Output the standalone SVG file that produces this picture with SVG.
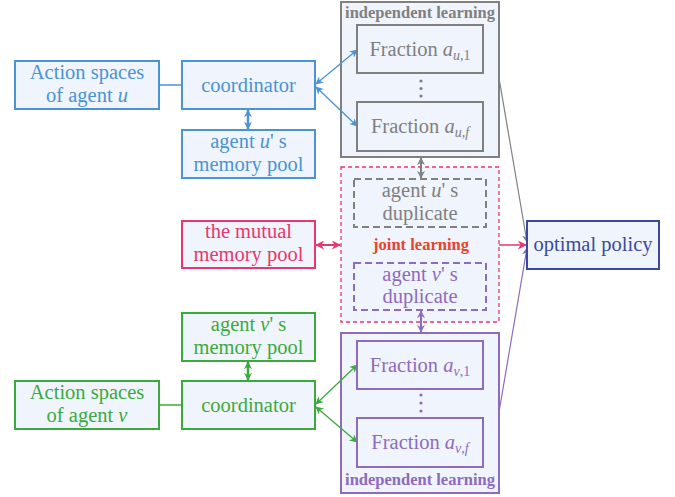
<svg xmlns="http://www.w3.org/2000/svg" width="675" height="497" viewBox="0 0 675 497">
<style>
text{font-family:"Liberation Serif","Times New Roman",serif;font-size:20.5px;text-anchor:middle}
.t{font-weight:bold;font-size:16.5px}
.i{font-style:italic}
.s{font-size:14px}
.n{fill:#f0f4fc;stroke-width:2}
.blue{stroke:#4a93d4}.blueT{fill:#4a93d4}
.green{stroke:#3aaa3c}.greenT{fill:#3aaa3c}
.pink{stroke:#e8376e}.pinkT{fill:#e8376e}
.gray{stroke:#808080}.grayT{fill:#808080}
.purple{stroke:#8e6bbf}.purpleT{fill:#8e6bbf}
.navy{stroke:#3a4a9e}.navyT{fill:#3a4a9e}
.dash{fill:#f0f4fc;stroke-width:2;stroke-dasharray:7,4}
</style>
<defs>
<marker id="mb" viewBox="0 0 10 10" refX="9" refY="5" markerWidth="8" markerHeight="8" markerUnits="userSpaceOnUse" orient="auto-start-reverse"><path d="M0,0 L10,5 L0,10 L3,5 Z" fill="#4a93d4"/></marker>
<marker id="mg" viewBox="0 0 10 10" refX="9" refY="5" markerWidth="8" markerHeight="8" markerUnits="userSpaceOnUse" orient="auto-start-reverse"><path d="M0,0 L10,5 L0,10 L3,5 Z" fill="#3aaa3c"/></marker>
<marker id="mp" viewBox="0 0 10 10" refX="9" refY="5" markerWidth="9" markerHeight="9" markerUnits="userSpaceOnUse" orient="auto-start-reverse"><path d="M0,0 L10,5 L0,10 L3,5 Z" fill="#e8376e"/></marker>
<marker id="mgr" viewBox="0 0 10 10" refX="9" refY="5" markerWidth="8" markerHeight="8" markerUnits="userSpaceOnUse" orient="auto-start-reverse"><path d="M0,0 L10,5 L0,10 L3,5 Z" fill="#808080"/></marker>
<marker id="mpu" viewBox="0 0 10 10" refX="9" refY="5" markerWidth="8" markerHeight="8" markerUnits="userSpaceOnUse" orient="auto-start-reverse"><path d="M0,0 L10,5 L0,10 L3,5 Z" fill="#8e6bbf"/></marker>
</defs>

<g id="indep-top">
<rect x="341" y="2" width="158" height="155" class="n gray" stroke-width="1.5"/>
<text x="420" y="18" class="t grayT">independent learning</text>
</g>
<g id="indep-bottom">
<rect x="341" y="333" width="158" height="160" class="n purple" stroke-width="1.5"/>
<text x="420" y="485" class="t purpleT">independent learning</text>
</g>
<g id="joint">
<rect x="341" y="167" width="158" height="155" fill="#f0f4fc" stroke="#e8376e" stroke-width="1.3" stroke-dasharray="4,3"/>
<text x="421" y="250" class="t" fill="#e8432e">joint learning</text>
</g>

<g id="connectors" fill="none">
<line x1="159" y1="85" x2="182" y2="85" class="blue" stroke-width="1.5"/>
<line x1="248" y1="110" x2="248" y2="129" class="blue" stroke-width="2.5" marker-start="url(#mb)" marker-end="url(#mb)"/>
<line x1="316" y1="84" x2="357" y2="50" class="blue" stroke-width="1.3" marker-start="url(#mb)" marker-end="url(#mb)"/>
<line x1="316" y1="87" x2="357" y2="126" class="blue" stroke-width="1.3" marker-start="url(#mb)" marker-end="url(#mb)"/>
<line x1="159" y1="405" x2="182" y2="405" class="green" stroke-width="1.5"/>
<line x1="248" y1="362" x2="248" y2="380" class="green" stroke-width="2.5" marker-start="url(#mg)" marker-end="url(#mg)"/>
<line x1="316" y1="404" x2="357" y2="365" class="green" stroke-width="1.3" marker-start="url(#mg)" marker-end="url(#mg)"/>
<line x1="316" y1="407" x2="357" y2="442" class="green" stroke-width="1.3" marker-start="url(#mg)" marker-end="url(#mg)"/>
<line x1="316" y1="245" x2="340" y2="245" class="pink" stroke-width="2" marker-start="url(#mp)" marker-end="url(#mp)"/>
<line x1="421" y1="158" x2="421" y2="178" class="gray" stroke-width="2" marker-start="url(#mgr)" marker-end="url(#mgr)"/>
<line x1="421" y1="311" x2="421" y2="332" class="purple" stroke-width="2" marker-start="url(#mpu)" marker-end="url(#mpu)"/>
<line x1="499" y1="245" x2="526" y2="245" class="pink" stroke-width="1.5" marker-end="url(#mp)"/>
<line x1="499" y1="78" x2="527" y2="242" class="gray" stroke-width="1.2" marker-end="url(#mgr)"/>
<line x1="499" y1="412" x2="527" y2="248" class="purple" stroke-width="1.2" marker-end="url(#mpu)"/>
</g>

<g id="action-u">
<rect x="15" y="61" width="144" height="48" class="n blue"/>
<text x="87" y="78.5" class="blueT">Action spaces</text>
<text x="87" y="101.5" class="blueT">of agent <tspan class="i">u</tspan></text>
</g>
<g id="coord-u">
<rect x="182" y="61" width="133" height="48" class="n blue"/>
<text x="248.5" y="92" class="blueT">coordinator</text>
</g>
<g id="mem-u">
<rect x="182" y="130" width="133" height="48" class="n blue"/>
<text x="248.5" y="147.5" class="blueT">agent <tspan class="i">u</tspan>' s</text>
<text x="248.5" y="170.5" class="blueT">memory pool</text>
</g>
<g id="frac-u1">
<rect x="357" y="25" width="126" height="48" class="n gray"/>
<text x="420" y="56" class="grayT">Fraction <tspan class="i">a</tspan><tspan class="s" dy="4"><tspan class="i">u</tspan>,1</tspan></text>
</g>
<g id="dots-u" fill="#808080">
<circle cx="421" cy="81" r="1.6"/><circle cx="421" cy="88.5" r="1.6"/><circle cx="421" cy="96" r="1.6"/>
</g>
<g id="frac-uf">
<rect x="357" y="102" width="126" height="49" class="n gray"/>
<text x="420" y="133" class="grayT">Fraction <tspan class="i">a</tspan><tspan class="s" dy="4"><tspan class="i">u</tspan>,<tspan class="i">f</tspan></tspan></text>
</g>
<g id="dup-u">
<rect x="354" y="179" width="132" height="48" class="dash" stroke="#808080"/>
<text x="420" y="196.5" class="grayT">agent <tspan class="i">u</tspan>' s</text>
<text x="420" y="219.5" class="grayT">duplicate</text>
</g>
<g id="dup-v">
<rect x="354" y="263" width="132" height="47" class="dash" stroke="#8e6bbf"/>
<text x="420" y="280.5" class="purpleT">agent <tspan class="i">v</tspan>' s</text>
<text x="420" y="303" class="purpleT">duplicate</text>
</g>
<g id="mutual">
<rect x="182" y="221" width="133" height="47" class="n pink"/>
<text x="248.5" y="237.5" class="pinkT">the mutual</text>
<text x="248.5" y="260.5" class="pinkT">memory pool</text>
</g>
<g id="optimal">
<rect x="527" y="221" width="132" height="48" class="n navy"/>
<text x="593" y="251" class="navyT">optimal policy</text>
</g>
<g id="mem-v">
<rect x="182" y="313" width="133" height="48" class="n green"/>
<text x="248.5" y="330.5" class="greenT">agent <tspan class="i">v</tspan>' s</text>
<text x="248.5" y="353.5" class="greenT">memory pool</text>
</g>
<g id="action-v">
<rect x="15" y="381" width="144" height="48" class="n green"/>
<text x="87" y="398.5" class="greenT">Action spaces</text>
<text x="87" y="421.5" class="greenT">of agent <tspan class="i">v</tspan></text>
</g>
<g id="coord-v">
<rect x="182" y="381" width="133" height="48" class="n green"/>
<text x="248.5" y="412" class="greenT">coordinator</text>
</g>
<g id="frac-v1">
<rect x="357" y="341" width="126" height="48" class="n purple"/>
<text x="420" y="372" class="purpleT">Fraction <tspan class="i">a</tspan><tspan class="s" dy="4"><tspan class="i">v</tspan>,1</tspan></text>
</g>
<g id="dots-v" fill="#8e6bbf">
<circle cx="421" cy="395" r="1.6"/><circle cx="421" cy="403" r="1.6"/><circle cx="421" cy="411" r="1.6"/>
</g>
<g id="frac-vf">
<rect x="357" y="418" width="126" height="49" class="n purple"/>
<text x="420" y="449" class="purpleT">Fraction <tspan class="i">a</tspan><tspan class="s" dy="4"><tspan class="i">v</tspan>,<tspan class="i">f</tspan></tspan></text>
</g>
</svg>
